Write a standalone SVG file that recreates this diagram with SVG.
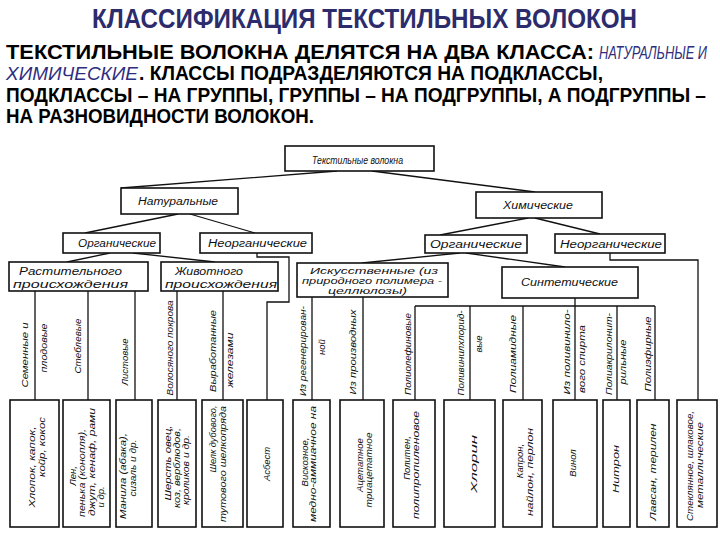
<svg xmlns="http://www.w3.org/2000/svg" width="720" height="540" viewBox="0 0 720 540">
<style>
.bg{fill:#fff}
.box{fill:#fff;stroke:#111;stroke-width:1.6}
.ln{fill:none;stroke:#111;stroke-width:1.3}
.t{font-family:"Liberation Sans",Arial,sans-serif;font-style:italic;font-size:10px;fill:#111}
.t9{font-family:"Liberation Sans",Arial,sans-serif;font-style:italic;font-size:9px;fill:#111}
.v{font-family:"Liberation Sans",Arial,sans-serif;font-style:italic;font-size:9.5px;fill:#111;text-anchor:middle}
.h{font-family:"Liberation Sans",Arial,sans-serif;font-weight:bold;fill:#000}
.hi{font-family:"Liberation Sans",Arial,sans-serif;font-style:italic;fill:#2e2e80}
.ti{font-family:"Liberation Sans",Arial,sans-serif;font-weight:bold;fill:#2c2c6c}
</style>
<rect class="bg" x="0" y="0" width="720" height="540"/>
<g id="header">
<text class="ti" x="92" y="28" font-size="27" textLength="545" lengthAdjust="spacingAndGlyphs">КЛАССИФИКАЦИЯ ТЕКСТИЛЬНЫХ ВОЛОКОН</text>
<text class="h" x="6" y="59" font-size="20" textLength="588" lengthAdjust="spacingAndGlyphs">ТЕКСТИЛЬНЫЕ ВОЛОКНА ДЕЛЯТСЯ НА ДВА КЛАССА:</text>
<text class="hi" x="599" y="59" font-size="19" textLength="108" lengthAdjust="spacingAndGlyphs">НАТУРАЛЬНЫЕ И</text>
<text class="hi" x="6" y="80" font-size="19" textLength="132" lengthAdjust="spacingAndGlyphs">ХИМИЧЕСКИЕ</text>
<text class="h" x="139" y="80" font-size="20" textLength="464" lengthAdjust="spacingAndGlyphs">. КЛАССЫ ПОДРАЗДЕЛЯЮТСЯ НА ПОДКЛАССЫ,</text>
<text class="h" x="6" y="102" font-size="20" textLength="700" lengthAdjust="spacingAndGlyphs">ПОДКЛАССЫ – НА ГРУППЫ, ГРУППЫ – НА ПОДГРУППЫ, А ПОДГРУППЫ –</text>
<text class="h" x="6" y="123" font-size="20" textLength="308" lengthAdjust="spacingAndGlyphs">НА РАЗНОВИДНОСТИ ВОЛОКОН.</text>
</g>
<g id="connectors">
<path class="ln" d="M337,171 L121,188 M372,171 L535,192"/>
<path class="ln" d="M178,214 L85,233 M190,214 L255,233"/>
<path class="ln" d="M528,218 L440,235 M535,218 L600,234"/>
<path class="ln" d="M110,253 L67,262 M133,253 L215,262"/>
<path class="ln" d="M257,253 V257 H289 V302 H267 V400"/>
<path class="ln" d="M460,253 L362,263 M466,253 L565,267"/>
<path class="ln" d="M610,253 V260 H698 V400"/>
<path class="ln" d="M35,291 V400 M88,291 V400 M135,291 V400"/>
<path class="ln" d="M177,291 V400 M223,291 V400"/>
<path class="ln" d="M312,297 V400 M363,297 V400"/>
<path class="ln" d="M575,298 V306 M415,306 H655 M415,306 V400 M470,306 V400 M523,306 V400 M575,306 V400 M617,306 V400 M655,306 V400"/>
</g>
<g id="n-textile"><rect class="box" x="285" y="146" width="149" height="25"/><text class="t" x="312" y="163.5" textLength="91" lengthAdjust="spacingAndGlyphs">Текстильные волокна</text></g>
<g id="n-natural"><rect class="box" x="121" y="188" width="117" height="26"/><text class="t" x="138" y="204.5" textLength="80" lengthAdjust="spacingAndGlyphs">Натуральные</text></g>
<g id="n-chemical"><rect class="box" x="476" y="192" width="126" height="26"/><text class="t" x="503" y="208.5" textLength="70" lengthAdjust="spacingAndGlyphs">Химические</text></g>
<g id="n-org1"><rect class="box" x="63" y="233" width="97" height="20"/><text class="t" x="78" y="246.5" textLength="78" lengthAdjust="spacingAndGlyphs">Органические</text></g>
<g id="n-inorg1"><rect class="box" x="200" y="233" width="112" height="20"/><text class="t" x="208" y="246.5" textLength="99" lengthAdjust="spacingAndGlyphs">Неорганические</text></g>
<g id="n-org2"><rect class="box" x="425" y="235" width="102" height="18"/><text class="t" x="430" y="247.5" textLength="92" lengthAdjust="spacingAndGlyphs">Органические</text></g>
<g id="n-inorg2"><rect class="box" x="555" y="234" width="110" height="19"/><text class="t" x="560" y="247.5" textLength="102" lengthAdjust="spacingAndGlyphs">Неорганические</text></g>
<g id="n-plant"><rect class="box" x="9" y="262" width="139" height="29"/><text class="t" x="19" y="275" textLength="103" lengthAdjust="spacingAndGlyphs">Растительного</text><text class="t" x="13" y="287.5" textLength="115" lengthAdjust="spacingAndGlyphs">происхождения</text></g>
<g id="n-animal"><rect class="box" x="161" y="262" width="117" height="29"/><text class="t" x="175" y="275" textLength="68" lengthAdjust="spacingAndGlyphs">Животного</text><text class="t" x="165" y="287.5" textLength="112" lengthAdjust="spacingAndGlyphs">происхождения</text></g>
<g id="n-artificial"><rect class="box" x="297" y="263" width="151" height="34"/><text class="t9" x="310" y="273.5" textLength="128" lengthAdjust="spacingAndGlyphs">Искусственные (из</text><text class="t9" x="302" y="283.5" textLength="140" lengthAdjust="spacingAndGlyphs">природного полимера -</text><text class="t9" x="328" y="293.5" textLength="79" lengthAdjust="spacingAndGlyphs">целлюлозы)</text></g>
<g id="n-synthetic"><rect class="box" x="502" y="267" width="136" height="31"/><text class="t" x="521" y="285.5" textLength="97" lengthAdjust="spacingAndGlyphs">Синтетические</text></g>
<g id="labels">
<text class="v" transform="translate(28.3,355) rotate(-90)" textLength="65" lengthAdjust="spacingAndGlyphs">Семенные и</text>
<text class="v" transform="translate(47.3,348) rotate(-90)" textLength="49" lengthAdjust="spacingAndGlyphs">плодовые</text>
<text class="v" transform="translate(81.3,346) rotate(-90)" textLength="55" lengthAdjust="spacingAndGlyphs">Стеблевые</text>
<text class="v" transform="translate(128.3,362) rotate(-90)">Листовые</text>
<text class="v" transform="translate(173.3,348) rotate(-90)" textLength="95" lengthAdjust="spacingAndGlyphs">Волосяного покрова</text>
<text class="v" transform="translate(216.3,351) rotate(-90)" textLength="82" lengthAdjust="spacingAndGlyphs">Выработанные</text>
<text class="v" transform="translate(233.3,360) rotate(-90)" textLength="55" lengthAdjust="spacingAndGlyphs">железами</text>
<text class="v" transform="translate(306.3,351) rotate(-90)" textLength="90" lengthAdjust="spacingAndGlyphs">Из регенерирован-</text>
<text class="v" transform="translate(325.3,347) rotate(-90)">ной</text>
<text class="v" transform="translate(356.3,352) rotate(-90)" textLength="85" lengthAdjust="spacingAndGlyphs">Из производных</text>
<text class="v" transform="translate(411.3,354) rotate(-90)" textLength="82" lengthAdjust="spacingAndGlyphs">Полиолефиновые</text>
<text class="v" transform="translate(464.3,353) rotate(-90)" textLength="85" lengthAdjust="spacingAndGlyphs">Поливинилхлорид-</text>
<text class="v" transform="translate(482.3,344) rotate(-90)">вые</text>
<text class="v" transform="translate(516.3,354) rotate(-90)" textLength="78" lengthAdjust="spacingAndGlyphs">Полиамидные</text>
<text class="v" transform="translate(570.3,352) rotate(-90)" textLength="85" lengthAdjust="spacingAndGlyphs">Из поливинило-</text>
<text class="v" transform="translate(585.3,359) rotate(-90)" textLength="68" lengthAdjust="spacingAndGlyphs">вого спирта</text>
<text class="v" transform="translate(612.3,354) rotate(-90)" textLength="82" lengthAdjust="spacingAndGlyphs">Полиакрилонит-</text>
<text class="v" transform="translate(626.3,362) rotate(-90)" textLength="45" lengthAdjust="spacingAndGlyphs">рильные</text>
<text class="v" transform="translate(651.3,354) rotate(-90)" textLength="75" lengthAdjust="spacingAndGlyphs">Полиэфирные</text>
</g>
<g id="n-cotton"><rect class="box" x="10" y="400" width="49" height="127"/><text class="v" transform="translate(35.3,467) rotate(-90)" textLength="81" lengthAdjust="spacingAndGlyphs">Хлопок, капок,</text><text class="v" transform="translate(45.3,447) rotate(-90)" textLength="60" lengthAdjust="spacingAndGlyphs">койр, кокос</text></g>
<g id="n-flax"><rect class="box" x="63" y="400" width="47" height="127"/><text class="v" transform="translate(76.3,476) rotate(-90)">Лен,</text><text class="v" transform="translate(85.3,473) rotate(-90)" textLength="88" lengthAdjust="spacingAndGlyphs">пенька (конопля),</text><text class="v" transform="translate(95.3,462) rotate(-90)" textLength="108" lengthAdjust="spacingAndGlyphs">джут, кенаф, рами</text><text class="v" transform="translate(104.3,497) rotate(-90)">и др.</text></g>
<g id="n-manila"><rect class="box" x="116" y="400" width="36" height="127"/><text class="v" transform="translate(126.3,476) rotate(-90)" textLength="86" lengthAdjust="spacingAndGlyphs">Манила (абака),</text><text class="v" transform="translate(136.3,468) rotate(-90)" textLength="57" lengthAdjust="spacingAndGlyphs">сизаль и др.</text></g>
<g id="n-wool"><rect class="box" x="158" y="400" width="38" height="127"/><text class="v" transform="translate(171.3,463) rotate(-90)" textLength="75" lengthAdjust="spacingAndGlyphs">Шерсть овец,</text><text class="v" transform="translate(180.3,468) rotate(-90)" textLength="80" lengthAdjust="spacingAndGlyphs">коз, верблюдов,</text><text class="v" transform="translate(189.3,470) rotate(-90)" textLength="70" lengthAdjust="spacingAndGlyphs">кроликов и др.</text></g>
<g id="n-silk"><rect class="box" x="202" y="400" width="41" height="127"/><text class="v" transform="translate(216.3,439) rotate(-90)" textLength="67" lengthAdjust="spacingAndGlyphs">Шелк дубового,</text><text class="v" transform="translate(226.3,464) rotate(-90)" textLength="116" lengthAdjust="spacingAndGlyphs">тутового шелкопряда</text></g>
<g id="n-asbestos"><rect class="box" x="247" y="400" width="36" height="127"/><text class="v" transform="translate(270.3,464) rotate(-90)">Асбест</text></g>
<g id="n-viscose"><rect class="box" x="293" y="400" width="37" height="127"/><text class="v" transform="translate(308.3,462) rotate(-90)">Вискозное,</text><text class="v" transform="translate(316.3,464) rotate(-90)" textLength="116" lengthAdjust="spacingAndGlyphs">медно-аммиачное на</text></g>
<g id="n-acetate"><rect class="box" x="340" y="400" width="44" height="127"/><text class="v" transform="translate(363.3,465) rotate(-90)">Ацетатное</text><text class="v" transform="translate(372.3,470) rotate(-90)" textLength="75" lengthAdjust="spacingAndGlyphs">триацетатное</text></g>
<g id="n-polyethylene"><rect class="box" x="393" y="400" width="42" height="127"/><text class="v" transform="translate(410.3,458) rotate(-90)">Политен,</text><text class="v" transform="translate(419.3,465) rotate(-90)" textLength="108" lengthAdjust="spacingAndGlyphs">полипропиленовое</text></g>
<g id="n-chlorin"><rect class="box" x="444" y="400" width="51" height="127"/><text class="v" transform="translate(477.3,464) rotate(-90)" textLength="58" lengthAdjust="spacingAndGlyphs">Хлорин</text></g>
<g id="n-kapron"><rect class="box" x="503" y="400" width="39" height="127"/><text class="v" transform="translate(523.3,461) rotate(-90)">Капрон,</text><text class="v" transform="translate(533.3,472) rotate(-90)" textLength="88" lengthAdjust="spacingAndGlyphs">найлон, перлон</text></g>
<g id="n-vinol"><rect class="box" x="553" y="400" width="44" height="127"/><text class="v" transform="translate(576.3,463) rotate(-90)">Винол</text></g>
<g id="n-nitron"><rect class="box" x="603" y="400" width="27" height="127"/><text class="v" transform="translate(619.3,469) rotate(-90)" textLength="48" lengthAdjust="spacingAndGlyphs">Нитрон</text></g>
<g id="n-lavsan"><rect class="box" x="637" y="400" width="32" height="127"/><text class="v" transform="translate(656.3,472) rotate(-90)" textLength="97" lengthAdjust="spacingAndGlyphs">Лавсан, терилен</text></g>
<g id="n-glass"><rect class="box" x="677" y="400" width="40" height="127"/><text class="v" transform="translate(693.3,466) rotate(-90)" textLength="110" lengthAdjust="spacingAndGlyphs">Стеклянное, шлаковое,</text><text class="v" transform="translate(703.3,465) rotate(-90)" textLength="86" lengthAdjust="spacingAndGlyphs">металлические</text></g>
</svg>
